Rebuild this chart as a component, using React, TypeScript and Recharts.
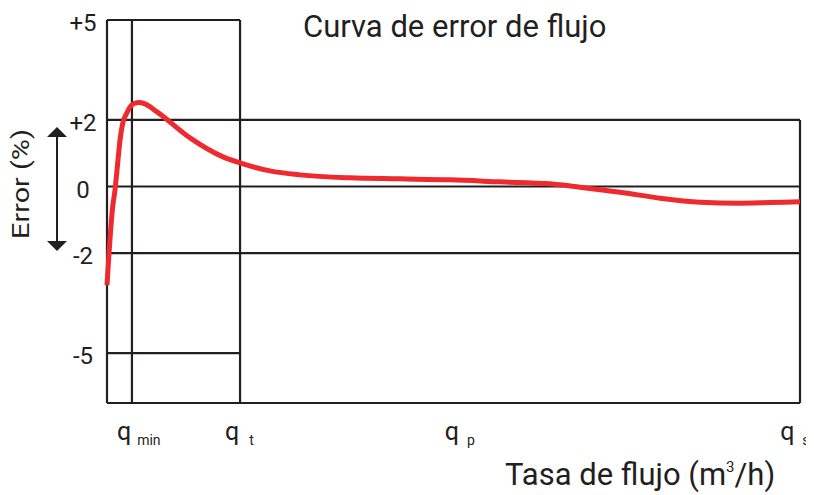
import React from "react";
import { ComposedChart, Line, XAxis, YAxis, ReferenceLine } from "recharts";

// Flow rate (0..100 relative scale) and error (%)
const flowX = [0, 0.29, 0.82, 1.15, 1.4, 1.63, 1.88, 2.27, 2.84, 3.56, 4.52, 5.48, 7.17, 11.98, 16.74, 19.19, 23.52, 27.85, 35.06, 42.28, 49.49, 56.71, 63.92, 68.25, 74.03, 79.8, 85.57, 91.34, 95.67, 100];
const errorY = [-2.96, -2.01, -0.61, -0.11, 0.4, 0.89, 1.4, 1.9, 2.2, 2.45, 2.52, 2.48, 2.25, 1.46, 0.89, 0.71, 0.47, 0.35, 0.26, 0.23, 0.2, 0.14, 0.08, -0.02, -0.17, -0.35, -0.47, -0.5, -0.48, -0.46];

// Landmark flow rates
const QMIN = 3.6;
const QT = 19.2;
const QMAX = 100;
const xTickValues = [3.6, 19.2, 50.9, 99.3];
const xTickMain = ["q", "q", "q", "q"];
const xTickSub = ["min", "t", "p", "s"];
const xTickSubGap = [6, 10, 8, 8];

// Error limits
const yTicks = [5, 2, 0, -2, -5];
const yTickLabels = ["+5", "+2", "0", "-2", "-5"];
const yDomain = [-6.5, 5];

const data = flowX.map((x, i) => ({ x, err: errorY[i] }));

const FONT = "Roboto, 'Liberation Sans', sans-serif";
const INK = "#231f20";

const YTick = (props: any) => {
  const { x, y, payload } = props;
  const idx = yTicks.indexOf(payload.value);
  return (
    <text x={x - 24} y={y} dy={11} textAnchor="middle" fontSize={24} fontFamily={FONT} fill={INK}>
      {yTickLabels[idx]}
    </text>
  );
};

const XTick = (props: any) => {
  const { x, y, payload } = props;
  const idx = xTickValues.indexOf(payload.value);
  return (
    <text x={x - 15} y={y} dy={37} textAnchor="start" fontFamily={FONT} fill={INK}>
      <tspan fontSize={25}>{xTickMain[idx]}</tspan>
      <tspan fontSize={14} dx={xTickSubGap[idx]} dy={5}>{xTickSub[idx]}</tspan>
    </text>
  );
};

const seg = (x1: number, y1: number, x2: number, y2: number) => [
  { x: x1, y: y1 },
  { x: x2, y: y2 },
];

const frame = [
  seg(0, 5, QT, 5),
  seg(0, 2, QMAX, 2),
  seg(0, 0, QMAX, 0),
  seg(0, -2, QMAX, -2),
  seg(0, -5, QT, -5),
  seg(0, -6.5, QMAX, -6.5),
  seg(0, -6.5, 0, 5),
  seg(QMIN, -6.5, QMIN, 5),
  seg(QT, -6.5, QT, 5),
  seg(QMAX, -6.5, QMAX, 2),
];

export default function App() {
  return (
    <div style={{ position: "relative", width: 806, height: 487 }}>
      <ComposedChart
        width={806}
        height={487}
        data={data}
        margin={{ top: 12, right: 14, left: 0, bottom: 52 }}
      >
        <XAxis
          dataKey="x"
          type="number"
          domain={[0, 100]}
          ticks={xTickValues}
          tick={<XTick />}
          axisLine={false}
          tickLine={false}
          tickSize={0}
          tickMargin={0}
          height={40}
          interval={0}
        />
        <YAxis
          type="number"
          domain={yDomain}
          ticks={yTicks}
          tick={<YTick />}
          axisLine={false}
          tickLine={false}
          tickSize={0}
          tickMargin={0}
          width={99}
          interval={0}
        />
        {frame.map((s, i) => (
          <ReferenceLine key={i} segment={s} stroke={INK} strokeWidth={2.2} ifOverflow="visible" />
        ))}
        <Line
          type="monotone"
          dataKey="err"
          stroke="#ee2a2f"
          strokeWidth={5}
          dot={false}
          isAnimationActive={false}
        />
      </ComposedChart>
      <svg
        width={806}
        height={487}
        style={{ position: "absolute", left: 0, top: 0, pointerEvents: "none" }}
      >
        <defs>
          <marker id="ah" viewBox="0 0 10 20" refX="9" refY="10" markerWidth="10" markerHeight="20" markerUnits="userSpaceOnUse" orient="auto-start-reverse">
            <path d="M0,0 L10,10 L0,20 z" fill={INK} />
          </marker>
        </defs>
        <text x={303 - 8} y={37 - 8} fontSize={31} fontFamily={FONT} fill={INK}>
          Curva de error de flujo
        </text>
        <text x={505 - 8} y={485 - 8} fontSize={31} fontFamily={FONT} fill={INK}>
          Tasa de flujo (m<tspan fontSize={15} dy={-13}>3</tspan>
          <tspan dy={13}>/h)</tspan>
        </text>
        <text
          transform={`translate(${29 - 8},${184 - 8}) rotate(-90)`}
          textAnchor="middle"
          fontSize={23}
          textLength={110}
          lengthAdjust="spacingAndGlyphs"
          fontFamily={FONT}
          fill={INK}
        >
          Error (%)
        </text>
        <line x1={57 - 8} y1={128 - 8} x2={57 - 8} y2={250 - 8} stroke={INK} strokeWidth={2} markerStart="url(#ah)" markerEnd="url(#ah)" />
      </svg>
    </div>
  );
}
